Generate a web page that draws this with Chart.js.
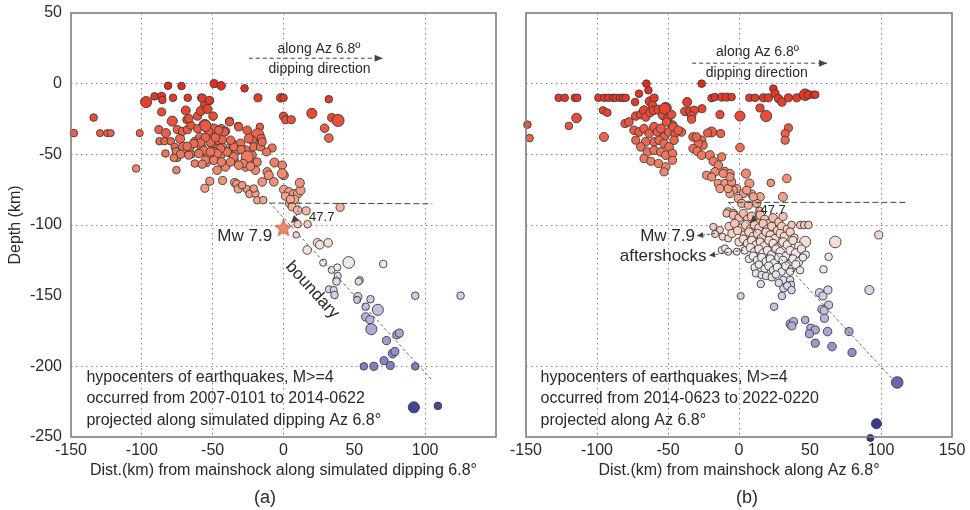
<!DOCTYPE html>
<html><head><meta charset="utf-8">
<script src="https://cdn.jsdelivr.net/npm/chart.js@4.4.1/dist/chart.umd.min.js"></script>
<style>
html,body{margin:0;padding:0;background:#fff;width:970px;height:510px;overflow:hidden}
#ca{position:absolute;left:0;top:0}
#cb{position:absolute;left:500px;top:0}
</style></head><body>
<canvas id="ca" width="520" height="510"></canvas>
<canvas id="cb" width="470" height="510"></canvas>
<script>
// ---------- data (distance km, depth km, magnitude) ----------
const xTicks = [-150,-100,-50,0,50,100,150];
const yTicks = [-250,-200,-150,-100,-50,0,50];

const pointsA = [
[-148,-35,4.5],[-134,-24,4.5],[-129.5,-35,4.4],[-124.5,-35,4.4],[-122,-35,4.4],[-101.5,-35,4.4],[-104,-60,4.5],
[-97,-13,5.2],[-91,-9,4.5],[-86,-9,4.6],[-85.5,-11.5,4.5],[-81.5,-1.5,4.5],[-78,-10,4.5],[-72,-1.7,4.5],[-67.6,-10,4.5],
[-58,-10,4.5],[-52,-12,4.5],[-49,0,4.6],[-44,-1.5,4.7],[-27.5,-3.3,4.5],[-18,-10,4.6],[-2,-10,4.7],[0,-10,4.5],
[32,-11,4.5],[20,-21,5.0],[0,-23,4.6],[1.5,-25.5,4.6],[5.5,-25.5,4.6],[34,-24,4.6],[38.5,-26,5.4],[29,-31.5,4.7],[32,-38.5,4.7],
[-86,-20,4.6],[-78.5,-26.5,5.0],[-69,-19,4.8],[-68.5,-25.5,4.5],[-88,-32.5,4.6],[-83,-35,4.8],[-87.5,-40.7,4.5],[-84,-40.7,4.5],[-79.6,-40.7,4.5],
[-73,-39,4.8],[-75,-32.5,4.6],[-71.3,-33.7,4.6],[-67.8,-32.5,4.6],[-65.4,-29.4,4.6],[-66.8,-24.7,4.6],[-60.7,-23,4.6],[-58.4,-19.3,4.8],
[-55.6,-14.8,4.7],[-53.7,-18,4.8],[-49.7,-23,4.7],[-55.6,-29.4,5.3],[-49,-31.8,4.8],[-60.7,-31.8,4.6],[-76.8,-44.7,4.5],
[-76,-47.8,4.5],[-75,-52.5,4.5],[-70.8,-44.7,4.8],[-69,-48.7,4.6],[-66.2,-45.5,4.6],[-65,-50,4.5],[-62.6,-41.2,4.8],[-59.5,-49,4.6],
[-57.9,-44.7,4.7],[-52.5,-38.4,4.8],[-50.8,-42.4,4.8],[-46.1,-45.9,4.8],[-52.8,-33.7,4.6],[-59.1,-37.7,4.7],[-62.6,-56.5,4.5],
[-54.4,-55.8,4.6],[-46.8,-61.2,4.7],[-52.3,-52.3,4.6],[-75.6,-61.2,4.5],[-83.3,-49.4,4.5],
[-57.4,-10.2,4.6],[-52.3,-11.8,4.6],
[-38.1,-26.6,4.6],[-32,-29.9,4.5],[-16.7,-30.6,4.5],[-18.3,-36.5,5.6],[-55.1,-29.9,5.2],[-44,-31.8,4.6],[-41,-33.7,4.7],
[-25.6,-33,4.7],[-22.1,-40,4.7],[-15.7,-38.8,4.6],[-16.7,-44,4.6],[-8,-45.5,4.6],[-12,-48.3,4.6],[-6.4,-55.8,4.8],[-0.9,-57.7,4.7],
[0.2,-64.8,4.8],[-36.2,-42.4,4.8],[-30.4,-42.4,4.8],[-26.8,-47.1,4.8],[-25.6,-54.2,5.4],[-35.1,-54.2,4.8],[-41,-58.9,4.7],
[-26.8,-58.9,4.7],[-19.8,-61.2,4.7],[-11.5,-62.4,4.7],[-51.6,-41.2,4.8],[-45.7,-40,4.8],[-43.3,-44.7,4.8],
[-49.2,-48.3,4.8],[-53.9,-50.6,4.6],[-44.5,-50.6,4.8],[-38.6,-48.3,4.8],[-32.7,-47.1,4.8],[-22.1,-50.6,4.6],[-18.6,-55.4,4.6],
[-35.1,-44.7,4.6],[-29.9,-46.6,4.6],[-25.6,-51.8,5.4],[-21,-44.7,4.6],[-16.2,-44.7,4.6],[-15,-41.2,4.6],[-28.5,-56.5,4.7],
[-31.6,-57.7,4.7],[-23.3,-58.4,4.7],[-35.1,-51.8,4.7],[-39.8,-48.3,4.7],[-44.5,-45.9,4.7],[-46.8,-49.4,4.7],[-37.4,-40,4.7],
[-43.3,-39.5,4.7],[-48,-38.1,4.7],[-55.1,-38.1,4.7],[-58.6,-41.9,4.7],[-63.3,-42.4,4.7],[-68,-44.3,4.7],[-56.3,-47.1,4.7],
[-51.6,-48.3,4.7],[-59.8,-49.4,4.7],[-55.1,-54.2,4.7],[-49.2,-54.2,4.7],[-43.8,-55.4,4.7],[-37.4,-55.4,4.7],[-57.4,-57,4.6],
[-66.9,-50.6,4.6],[-72.7,-49.9,4.6],[-77.4,-52.5,4.5],[-41.7,-34.2,4.6],[-38.1,-27.1,4.6],[-31.6,-30.6,4.6],[-24.5,-38.8,4.8],[-45.7,-33,4.6],
[-52,-69,4.6],[-55.5,-74,4.6],[-43,-68.5,4.6],[-34.5,-70,4.6],[-33,-71,4.6],[-32,-74.5,4.6],[-26,-74.5,4.5],[-24,-78,4.5],[-18.5,-82.5,4.5],
[-10.4,-64.8,4.8],[-6.8,-69.5,4.7],[-15,-69.5,4.7],[-19.8,-77.7,4.5],[-21,-74.2,4.5],[-29.2,-71.8,4.5],[-14.3,-82.4,4.5],
[0.2,-74.9,4.7],[3.8,-76.6,4.7],[7.3,-78.2,4.8],[10.1,-77.7,4.8],[12,-75.4,4.8],[11.5,-70.2,4.8],[1.4,-79.6,4.6],[4.4,-84.7,4.7],
[7.8,-81.9,4.7],[4.9,-81.9,4.6],[6.1,-87.1,4.6],[10,-89.5,4.7],[-0.9,-63.6,4.9],
[40,-87.5,4.6],[16,-90,4.6],[17,-99.4,4.5],[10,-99.4,4.5],[9,-107,4.3],[24,-112.6,4.7],[25.6,-114,4.7],[31.5,-112.6,4.7],
[16.7,-117.7,4.7],[28,-126.7,4.4],[34,-131.8,4.4],[38,-130,4.4],[46,-126.5,5.3],[70.4,-127.6,4.5],[37.4,-139,4.4],[38.3,-136,4.4],
[53.9,-139,4.4],[37.4,-140,4.5],[32,-145.5,4.4],[35.5,-146,4.4],[36,-149.5,4.5],[53,-140,4.4],[52.5,-150.7,4.6],[52,-153,4.4],
[61.4,-152.5,4.5],[93,-150,4.5],[125,-150,4.5],[58,-157.8,4.5],[66.6,-160,5.2],[58,-165,4.6],[61,-167,4.6],[62,-173.7,5.2],
[80,-177.7,4.6],[81.7,-176.5,4.6],[72.7,-181.8,4.6],[77,-191,4.7],[78.6,-189.5,4.6],[71,-196,4.6],[75.4,-199.4,4.6],
[56.7,-200,4.5],[63.8,-200,4.6],[93,-200,4.5],[92,-229,5.2],[109,-228,4.5]
];
const mainshockA = [[0,-102.4]];

const pointsB = [
[-149,-29,4.5],[-147.5,-38.5,4.5],[-127,-10,4.5],[-122.7,-10,4.5],[-115.6,-10,4.5],[-113.9,-10,4.5],[-114.4,-24.3,4.9],[-119.8,-29.9,4.5],
[-99,-10,4.5],[-95,-10,4.5],[-92,-10,4.5],[-88.8,-10,4.5],[-86.9,-10,4.5],[-83.8,-10,4.5],[-81.7,-10,4.5],[-79.8,-10,4.5],
[-95.8,-18.9,4.5],[-92.7,-20.5,4.5],[-95.1,-37.7,4.8],[-65.2,0,4.5],[-63.8,-4.7,4.5],[-70.4,-7.1,4.5],[-73.2,-13,4.5],[-62.9,-12.5,4.8],[-59.8,-10.2,4.6],[-61,-15.3,4.7],
[-80.3,-28.2,4.6],[-77.5,-27.1,4.7],[-72.7,-22.9,4.7],[-69.2,-21.9,4.7],[-66.9,-18.9,4.8],[-65.7,-23.6,4.7],[-62.6,-20.5,4.7],[-60.2,-18.9,4.7],[-56.7,-18.4,4.8],[-51.6,-17.2,5.2],[-53.9,-22.4,4.7],[-50.4,-25.2,4.8],
[-73.9,-33,4.7],[-70.4,-34.2,4.7],[-66.9,-31.8,4.7],[-63.3,-35.3,4.7],[-59.8,-30.6,4.8],[-57.4,-34.2,4.7],[-55.1,-31.8,4.8],[-52.8,-37.7,4.7],[-49.6,-34.2,4.7],[-46.8,-29.4,4.8],[-45,-35.3,4.7],
[-59.8,-41.2,4.7],[-56.3,-40,4.7],[-52.8,-42.4,4.7],[-49.2,-44.7,4.7],[-45.7,-40,4.7],[-65.7,-41.2,4.7],[-72.7,-40,4.6],[-69.2,-44.7,4.7],[-64.5,-48.3,4.7],[-59.8,-47.1,4.7],[-55.1,-48.3,4.7],[-51.6,-50.6,4.7],[-46.8,-49.4,4.7],
[-66.9,-53,4.6],[-62.1,-54.9,4.6],[-56.7,-56.5,4.6],[-51.6,-58.9,4.7],[-46.8,-54.2,4.6],[-52.8,-62.4,4.6],
[-26.3,0,4.5],[-19.3,-10.2,4.5],[-17,-9.5,4.5],[-12.2,-9.5,4.6],[-8.7,-9.5,4.6],[-5.2,-9.5,4.5],
[7.3,-10,4.5],[11.3,-10,4.5],[17.2,-10,4.6],[20.7,-10,4.6],[24.2,-3.5,4.5],[25.4,-7,4.6],[27.8,-10.6,4.6],[30.2,-13,4.7],[34.8,-10,4.6],[40.7,-10,4.6],[46.6,-7.8,5.3],[49,-7.8,4.6],[52.5,-7.8,4.5],[53.7,-7.8,4.5],
[14.8,-17.2,4.6],[19.1,-22.9,5.2],[0.7,-22.9,5.0],[-13.4,-21.9,4.6],[-26.1,-17.7,4.6],[-36.5,-13,4.8],[-38.1,-19.6,4.7],[-34.6,-19.6,4.7],[-31.6,-18.9,4.7],[-33.4,-22.9,4.7],[-33.4,-25.2,4.6],
[34.8,-31.3,4.6],[32.5,-35.3,4.6],[32.5,-40,4.6],[0.7,-45.2,4.7],[-19.3,-34.2,5.0],[-12.9,-35.3,4.6],[-22.1,-34.9,4.6],[-26.3,-40,4.7],[-25.2,-43.6,4.6],[-28.7,-42.4,4.6],[-32.3,-37.7,4.7],[-29.9,-37.7,4.7],[-40.5,-34.2,4.7],
[-52.3,-17.7,5.2],[-47.5,-21.9,4.7],[-46.4,-30.6,4.7],[-42.9,-33,4.7],[-51.1,-27.1,4.7],
[-32.3,-45.9,4.7],[-29.4,-47.8,4.7],[-26.3,-50.6,4.7],[-20.5,-50.6,4.8],[-18.1,-54.9,4.7],[-14.6,-57.7,4.7],[-12.2,-51.8,4.6],[-16.9,-62.4,4.7],[-9.9,-62.4,4.8],[-6.4,-63.6,4.7],[4.9,-63.6,4.8],
[7.3,-70.6,4.8],[3,-77.7,4.6],[9,-78.2,4.6],[14.8,-80.1,4.7],[12.5,-84.7,4.6],[22.4,-70.2,4.5],[33.7,-67.1,4.7],[30.9,-80.1,4.8],[5.4,-75.4,4.6],[-1.6,-74.2,4.6],[-4,-75.4,4.6],[-6.4,-77.7,4.6],[-0.5,-81.2,4.6],[1.9,-84.7,4.6],[6.6,-86,4.6],[10.1,-80.1,4.6],
[-22.8,-64.8,4.6],[-19.3,-66,4.6],[-14.6,-70.6,4.6],[-9.9,-70.6,4.6],[-13.4,-74.2,4.6],[-7.6,-74.2,4.6],[-5.2,-69.5,4.6],[-6.4,-66,4.6],[-11.1,-63.6,4.6],
[14.3,-90,4.5],[-7.6,-90.7,4.6],[-4,-91.8,4.6],[-8.7,-91.8,4.5],[43.1,-100,4.5],[45.9,-100,4.5],[48.9,-100,4.5],[67.8,-112,5.3],[63.1,-122.5,4.5],[59.5,-131.4,4.5],[98.4,-107,4.6],
[-18.1,-101.3,4.4],[-13.4,-103.5,4.4],[-16.9,-106.4,4.4],[-11.5,-108.3,4.4],[-7.6,-109.5,4.4],[-12.2,-117.7,4.4],[-9.9,-116.5,4.4],[-7.6,-118.9,4.4],[-1.6,-118.9,4.4],[1.9,-111.9,4.5],[46.6,-111.9,5.2],
[-4,-93,4.6],[0,-95,4.6],[3,-92,4.7],[6,-96,4.6],[9,-94,4.8],[12,-97,4.6],[15,-93,4.7],[18,-96,4.6],[21,-99,4.6],[24,-95,4.7],[28,-98,4.6],[31,-94,4.6],
[-7,-101,4.6],[-3,-99,4.7],[2,-102,4.6],[5,-100,4.8],[8,-103,4.6],[11,-100,4.7],[14,-102,4.6],[17,-99,4.6],[20,-103,4.7],[23,-101,4.6],[27,-104,4.6],[30,-101,4.6],[34,-103,4.6],[37,-100,4.5],
[-5,-106,4.6],[-1,-104,4.6],[4,-107,4.6],[7,-105,4.7],[10,-108,4.6],[13,-106,4.6],[16,-109,4.7],[19,-105,4.6],[22,-107,4.6],[25,-110,4.8],[29,-106,4.6],[32,-108,4.6],[36,-105,4.6],[39,-109,4.5],
[0,-112,4.6],[3,-110,4.6],[6,-113,4.6],[9,-111,4.7],[12,-114,4.6],[15,-112,4.6],[18,-115,4.8],[21,-111,4.6],[24,-113,4.6],[27,-116,4.6],[31,-112,4.7],[34,-114,4.6],[38,-111,4.6],[42,-115,4.6],
[4,-118,4.5],[8,-116,4.6],[11,-119,4.6],[14,-117,4.6],[17,-120,4.7],[20,-118,4.6],[23,-121,4.6],[26,-117,4.6],[29,-119,4.7],[33,-122,4.6],[36,-118,4.6],[40,-120,4.8],[44,-117,4.6],[47,-121,4.5],
[7,-124,4.5],[10,-122,4.6],[13,-125,4.6],[16,-123,4.6],[19,-126,4.6],[22,-124,4.6],[25,-127,4.6],[28,-123,4.6],[31,-125,4.6],[35,-128,4.6],[38,-124,4.6],[42,-126,4.6],[45,-123,4.5],
[11,-130,4.5],[14,-128,4.5],[18,-131,4.5],[21,-129,4.6],[24,-132,4.5],[27,-130,4.6],[30,-133,4.5],[33,-129,4.6],[37,-131,4.5],[40,-128,4.6],[43,-132,4.5],
[12,-134.2,4.5],[16,-135.4,4.5],[19.1,-136.1,4.5],[23.1,-137,4.5],[15.3,-141.7,4.5],[31.3,-138.9,4.5],[31.3,-144.8,4.5],[36,-138.9,4.5],[36.5,-142.4,4.5],[36,-133,4.5],[26,-135,4.5],[28,-141,4.5],[34,-143,4.5],[37,-146,4.5],
[1.2,-150.2,4.4],[30.2,-150.2,4.5],[24.7,-157.8,4.5],[56.7,-147.9,4.6],[59.1,-150.2,4.6],[62.6,-146,4.6],[91.8,-146,4.8],[63.1,-156.6,4.6],[58.4,-159.6,4.6],[60,-160.6,4.6],[60.2,-166,4.6],
[36,-170,4.6],[38.4,-168.4,4.6],[37.2,-171.4,4.6],[46.6,-167.2,4.5],[50.6,-173,4.6],[53.7,-174.2,4.6],[49.6,-177,4.6],[62.4,-175.4,4.7],[77.5,-175.4,4.6],[53.7,-183.6,4.6],[65.5,-186,4.7],[79.6,-190.2,4.6],
[111.4,-211.4,5.3],[96.8,-240.6,5.0],[92.5,-250.7,4.4]
];

const noteA = ['hypocenters of earthquakes, M>=4','occurred from 2007-0101 to 2014-0622','projected along simulated dipping Az 6.8°'];
const noteB = ['hypocenters of earthquakes, M>=4','occurred from 2014-0623 to 2022-0220','projected along Az 6.8°'];
const xTitleA = 'Dist.(km) from mainshock along simulated dipping 6.8°';
const xTitleB = 'Dist.(km) from mainshock along Az 6.8°';
const yTitle = 'Depth (km)';

// ---------- styling ----------
const FONT = '"Liberation Sans", Arial, Helvetica, sans-serif';
const TXT = '#2a2a2a';
const stops = [[0,[226,42,30]],[-20,[233,72,50]],[-40,[238,102,78]],[-60,[241,132,106]],[-80,[244,163,138]],[-100,[247,200,184]],[-115,[246,226,220]],[-130,[236,234,242]],[-150,[206,206,232]],[-175,[168,168,214]],[-200,[126,126,194]],[-230,[66,66,156]],[-260,[40,40,130]]];
function depthColor(d){
  for(let i=0;i<stops.length-1;i++){
    const [d0,c0]=stops[i],[d1,c1]=stops[i+1];
    if(d>=d1||i===stops.length-2){
      let t=(d0-d)/(d0-d1); t=Math.max(0,Math.min(1,t));
      return 'rgb('+c0.map((v,k)=>Math.round(v+(c1[k]-v)*t)).join(',')+')';
    }
  }
}
const magRadius = m => 3.8 + (m-4.5)*2.5;

function starImg(){
  const c=document.createElement('canvas'); c.width=c.height=22;
  const g=c.getContext('2d'); g.beginPath();
  for(let i=0;i<10;i++){const r=i%2?3.8:9; const a=-Math.PI/2+i*Math.PI/5; g.lineTo(11+r*Math.cos(a),11+r*Math.sin(a));}
  g.closePath(); g.fillStyle='#f08a68'; g.fill(); g.strokeStyle='#b8573f'; g.lineWidth=1; g.stroke();
  return c;
}

function arrowHead(ctx,p0,p1,color,len=8,hw=3.5){
  const dx=p1[0]-p0[0], dy=p1[1]-p0[1], L=Math.hypot(dx,dy), ux=dx/L, uy=dy/L;
  ctx.setLineDash([]); ctx.fillStyle=color; ctx.beginPath();
  ctx.moveTo(p1[0],p1[1]);
  ctx.lineTo(p1[0]-ux*len-uy*hw, p1[1]-uy*len+ux*hw);
  ctx.lineTo(p1[0]-ux*len+uy*hw, p1[1]-uy*len-ux*hw);
  ctx.closePath(); ctx.fill();
}

const annotPlugin = {
  id:'annot',
  afterDatasetsDraw(chart, args, o){
    const {ctx, chartArea:a, scales:{x,y}} = chart;
    const P = p => [x.getPixelForValue(p[0]), y.getPixelForValue(p[1])];
    ctx.save();
    ctx.setLineDash([]); ctx.strokeStyle='#7d7d7d'; ctx.lineWidth=1.6;
    ctx.strokeRect(a.left, a.top, a.right-a.left, a.bottom-a.top);
    (o.lines||[]).forEach(l=>{
      const p0=P(l.from), p1=P(l.to);
      ctx.strokeStyle=l.color; ctx.lineWidth=l.width||1; ctx.setLineDash(l.dash||[]);
      ctx.beginPath(); ctx.moveTo(p0[0],p0[1]); ctx.lineTo(p1[0],p1[1]); ctx.stroke();
      if(l.arrow) arrowHead(ctx,p0,p1,l.color,l.alen||8,l.ahw||3.5);
    });
    (o.arcs||[]).forEach(r=>{
      const c=P(r.center), a1=r.angle*Math.PI/180;
      ctx.strokeStyle=r.color; ctx.lineWidth=1; ctx.setLineDash([2,2]);
      ctx.beginPath(); ctx.arc(c[0],c[1],r.radius,0,a1); ctx.stroke();
      const e=[c[0]+r.radius*Math.cos(a1), c[1]+r.radius*Math.sin(a1)];
      const b=[e[0]+Math.sin(a1)*5, e[1]-Math.cos(a1)*5];
      arrowHead(ctx,b,e,r.color,8,3.5);
    });
    (o.texts||[]).forEach(t=>{
      const p = t.px ? t.px : P(t.at);
      ctx.save(); ctx.translate(p[0],p[1]); if(t.rot) ctx.rotate(t.rot*Math.PI/180);
      ctx.font = t.size+'px '+FONT; ctx.fillStyle=t.color||TXT;
      ctx.textAlign=t.align||'center'; ctx.textBaseline='middle';
      ctx.fillText(t.text,0,0); ctx.restore();
    });
    ctx.restore();
  }
};

function buildDatasets(pts, extra){
  const ds = [{
    data: pts.map(p=>({x:p[0], y:p[1]})),
    pointBackgroundColor: pts.map(p=>depthColor(p[1])),
    pointBorderColor: '#3a3a3a', pointBorderWidth: 0.9,
    pointRadius: pts.map(p=>magRadius(p[2])),
    showLine:false, clip:false
  }];
  if(extra) ds.push(extra);
  return ds;
}

function makeChart(id, datasets, isA, annot){
  const gridColor = c => (c.tick && Math.abs(c.tick.value)===150) ? 'rgba(0,0,0,0)' :
                         (c.tick && (c.tick.value===50||c.tick.value===-250) ? 'rgba(0,0,0,0)' : '#858585');
  return new Chart(document.getElementById(id), {
    type:'scatter',
    data:{datasets},
    options:{
      responsive:false, animation:false, events:[],
      layout:{padding: isA ? {left:6,right:24,top:13,bottom:30} : {left:0,right:18,top:13,bottom:30}},
      plugins:{legend:{display:false}, tooltip:{enabled:false}, annot},
      scales:{
        x:{type:'linear', min:-150, max:150,
           afterBuildTicks: s=>{ s.ticks = xTicks.map(v=>({value:v})); },
           afterFit: s=>{ s.height = 43; s.paddingLeft = 0; s.paddingRight = 0; },
           ticks:{font:{family:FONT,size:16}, color:TXT, padding:4, maxRotation:0, autoSkip:false,
                  callback: v => (isA && v===150) ? '' : String(v)},
           grid:{color:gridColor, lineWidth:1, drawTicks:false},
           border:{display:false, dash:[1.5,3.5]},
           title:{display:true, text: isA?xTitleA:xTitleB, font:{family:FONT,size:16}, color:TXT, padding:0}},
        y:{type:'linear', min:-250, max:50,
           afterBuildTicks: s=>{ s.ticks = yTicks.map(v=>({value:v})); },
           afterFit: s=>{ s.width = isA ? 65 : 26; s.paddingTop = 0; s.paddingBottom = 0; },
           ticks:{display:isA, font:{family:FONT,size:16}, color:TXT, padding:9, autoSkip:false},
           grid:{color:gridColor, lineWidth:1, drawTicks:false},
           border:{display:false, dash:[1.5,3.5]},
           title:{display:isA, text:yTitle, font:{family:FONT,size:16}, color:TXT, padding:0}}
      }
    },
    plugins:[annotPlugin]
  });
}

const star = starImg();
makeChart('ca', buildDatasets(pointsA, {
  data: mainshockA.map(p=>({x:p[0],y:p[1]})), pointStyle: star, pointRadius: 10, showLine:false, clip:false
}), true, {
  lines:[
    {from:[-10,-84.5], to:[105,-85], color:'#444', dash:[6,3]},
    {from:[-10,-84], to:[105,-210], color:'#666', dash:[3,2.5]},
    {from:[-24.5,18], to:[70,18], color:'#444', dash:[4,3], arrow:true}
  ],
  arcs:[{center:[-10,-84], radius:30, angle:44, color:'#444'}],
  texts:[
    {text:'along Az 6.8º', at:[25,24.5], size:14},
    {text:'dipping direction', at:[25.4,10.6], size:14},
    {text:'47.7', at:[27,-94.6], size:13},
    {text:'Mw 7.9', at:[-8,-108.3], size:17, align:'right'},
    {text:'boundary', at:[20.3,-146], size:17, rot:47.7},
    {text:noteA[0], at:[-139.1,-207.9], size:16, align:'left'},
    {text:noteA[1], at:[-139.1,-222.5], size:16, align:'left'},
    {text:noteA[2], at:[-139.1,-238.3], size:16, align:'left'},
    {text:'(a)', px:[265,498], size:18}
  ]
});

makeChart('cb', buildDatasets(pointsB), false, {
  lines:[
    {from:[-7.5,-84], to:[118.4,-84], color:'#444', dash:[6,3]},
    {from:[-7.5,-84], to:[109,-210], color:'#666', dash:[3,2.5]},
    {from:[-33,14.5], to:[62,14.5], color:'#444', dash:[4,3], arrow:true},
    {from:[-17,-106], to:[-29.5,-107.6], color:'#444', dash:[3,2], arrow:true, alen:6, ahw:3},
    {from:[3,-117.7], to:[-21,-121.6], color:'#444', dash:[3,2], arrow:true, alen:6, ahw:3}
  ],
  arcs:[{center:[-7.5,-84], radius:30, angle:44, color:'#444'}],
  texts:[
    {text:'along Az 6.8º', at:[13,22], size:14},
    {text:'dipping direction', at:[12.5,7.5], size:14},
    {text:'47.7', at:[24,-90], size:13},
    {text:'Mw 7.9', at:[-31,-108.3], size:17, align:'right'},
    {text:'aftershocks', at:[-22.8,-122], size:17, align:'right'},
    {text:noteB[0], at:[-139.8,-207.9], size:16, align:'left'},
    {text:noteB[1], at:[-139.8,-222.5], size:16, align:'left'},
    {text:noteB[2], at:[-139.8,-238.3], size:16, align:'left'},
    {text:'(b)', px:[247,498], size:18}
  ]
});
</script>
</body></html>
